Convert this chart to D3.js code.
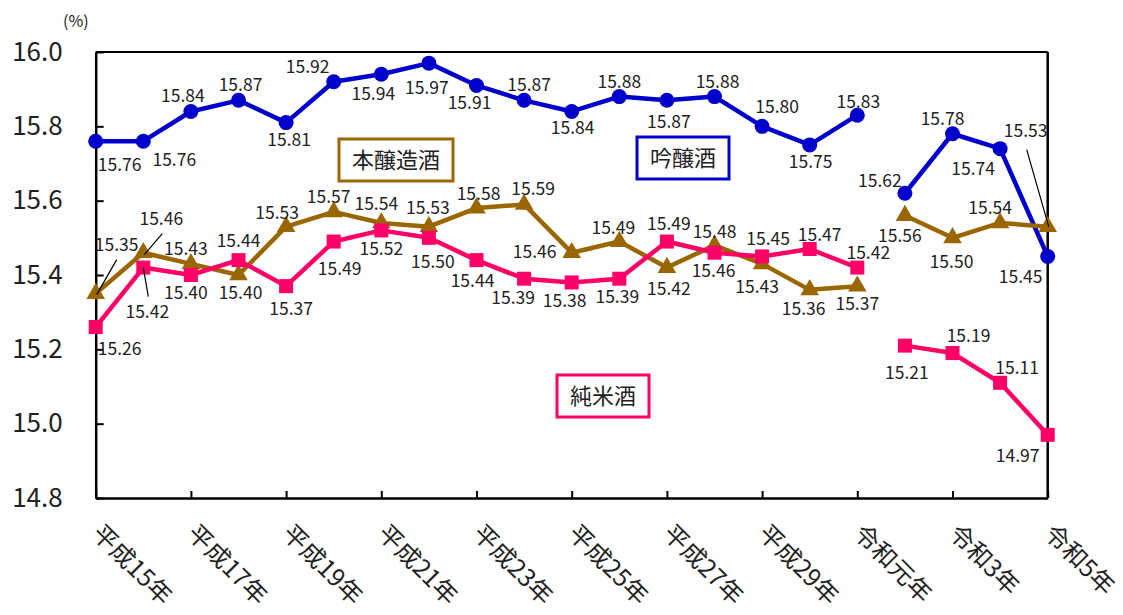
<!DOCTYPE html>
<html><head><meta charset="utf-8">
<script src="https://cdn.jsdelivr.net/npm/d3@7"></script>
<style>
body{margin:0;background:#fff;}
text{font-family:"Noto Sans CJK JP","Noto Sans",sans-serif;fill:#222;}
</style></head>
<body><svg id="c" width="1123" height="615"></svg>
<script>
const categories = ["平成15年","平成16年","平成17年","平成18年","平成19年","平成20年","平成21年","平成22年","平成23年","平成24年","平成25年","平成26年","平成27年","平成28年","平成29年","平成30年","令和元年","令和2年","令和3年","令和4年","令和5年"];
const ginjo   = [15.76,15.76,15.84,15.87,15.81,15.92,15.94,15.97,15.91,15.87,15.84,15.88,15.87,15.88,15.80,15.75,15.83,15.62,15.78,15.74,15.45];
const honjozo = [15.35,15.46,15.43,15.40,15.53,15.57,15.54,15.53,15.58,15.59,15.46,15.49,15.42,15.48,15.43,15.36,15.37,15.56,15.50,15.54,15.53];
const junmai  = [15.26,15.42,15.40,15.44,15.37,15.49,15.52,15.50,15.44,15.39,15.38,15.39,15.49,15.46,15.45,15.47,15.42,15.21,15.19,15.11,14.97];
const seriesNames = ["吟醸酒","本醸造酒","純米酒"];
const breakIndex = 17; // series restart at 令和2年
const yTicks = [14.8,15.0,15.2,15.4,15.6,15.8,16.0];

// label placement (presentation only): [dx, dy] from point
const ginjoLab = [[24,30],[31,25],[-8,-9],[2,-9],[3,23],[-26,-9],[-8,26],[-2,31],[-7,24],[5,-9],[1,23],[0,-9],[2,28],[3,-9],[15,-13],[1,23],[1,-7],[-25,-6],[-10,-9],[-27,26],[-27,27]];
const honLab = [[21,-43],[18,-28],[-5,-9],[2,24],[-9,-8],[-5,-9],[-5,-13],[-1,-13],[2,-8],[9,-9],[-37,5],[-6,-8],[2,27],[0,-7],[-5,29],[-6,25],[0,24],[-5,26],[-1,30],[-10,-9],[-22,-90]];
const junLab = [[24,28],[4,50],[-5,24],[0,-13],[5,29],[6,33],[0,25],[4,30],[-4,27],[-11,25],[-7,25],[-2,24],[2,-12],[-1,24],[6,-11],[10,-8],[11,-9],[2,33],[16,-11],[17,-9],[-30,27]];
const leaders = [
  {s:1,i:0,from:[21,-34],to:[1,1]},
  {s:1,i:1,from:[19,-19],to:[1,2]},
  {s:2,i:1,from:[0,0],to:[5,29]},
  {s:1,i:20,from:[-21,-77],to:[1,0]}
];

const svg = d3.select("#c");
const x = d3.scalePoint().domain(categories).range([95.7,1047.7]);
const y = d3.scaleLinear().domain([14.8,16.0]).range([498,52]);
const colors = ["#0000CC","#996600","#FF0066"];
const values = [ginjo,honjozo,junmai];
const labs = [ginjoLab,honLab,junLab];

// frame
svg.append("line").attr("x1",95.7).attr("x2",1047.7).attr("y1",52).attr("y2",52).attr("stroke","#000").attr("stroke-width",2);
svg.append("line").attr("x1",1047.7).attr("x2",1047.7).attr("y1",52).attr("y2",498).attr("stroke","#000").attr("stroke-width",2.5);

// y axis
const yAxis = d3.axisLeft(y).tickValues(yTicks).tickSize(-8).tickSizeOuter(0).tickFormat(d3.format(".1f"));
const gy = svg.append("g").attr("transform","translate(95.7,0)").call(yAxis);
gy.select(".domain").attr("stroke","#000").attr("stroke-width",2.5);
gy.selectAll(".tick line").attr("stroke","#000").attr("stroke-width",2);
gy.selectAll(".tick text").attr("x",-33).attr("font-size",26).attr("fill","#222")
  .style("font-family",'"Noto Sans CJK JP",sans-serif');
svg.append("text").attr("x",63).attr("y",27).attr("font-size",16).text("(%)");

// x axis
const xAxis = d3.axisBottom(x).tickValues(categories.filter((d,i)=>i%2===0)).tickSize(-7).tickSizeOuter(0).tickFormat("");
const gx = svg.append("g").attr("transform","translate(0,498)").call(xAxis);
gx.select(".domain").attr("stroke","#000").attr("stroke-width",2.5);
gx.selectAll(".tick line").attr("stroke","#000").attr("stroke-width",2);
svg.append("g").selectAll("text").data(categories.filter((d,i)=>i%2===0)).join("text")
  .attr("transform",d=>`translate(${x(d)+1},${529}) rotate(45)`)
  .attr("font-size",24.5).attr("dy","0.35em").text(d=>d);

// lines & markers
values.forEach((vals,s)=>{
  const pts = vals.map((v,i)=>({c:categories[i],v,i}));
  const segs = [pts.slice(0,breakIndex), pts.slice(breakIndex)];
  const line = d3.line().x(d=>x(d.c)).y(d=>y(d.v));
  segs.forEach(seg=>{
    svg.append("path").attr("d",line(seg)).attr("fill","none").attr("stroke",colors[s]).attr("stroke-width",4.5).attr("stroke-linejoin","round");
  });
  const g = svg.append("g");
  if(s===0){
    g.selectAll("circle").data(pts).join("circle").attr("cx",d=>x(d.c)).attr("cy",d=>y(d.v)).attr("r",7.5).attr("fill",colors[s]);
  } else if(s===1){
    g.selectAll("path").data(pts).join("path").attr("transform",d=>`translate(${x(d.c)},${y(d.v)})`)
      .attr("d",d3.symbol(d3.symbolTriangle,150)).attr("fill",colors[s]);
  } else {
    g.selectAll("rect").data(pts).join("rect").attr("x",d=>x(d.c)-7).attr("y",d=>y(d.v)-7).attr("width",14).attr("height",14).attr("fill",colors[s]);
  }
});

// leader lines
leaders.forEach(l=>{
  const px = x(categories[l.i]), py = y(values[l.s][l.i]);
  svg.append("line").attr("x1",px+l.from[0]).attr("y1",py+l.from[1]).attr("x2",px+l.to[0]).attr("y2",py+l.to[1]).attr("stroke","#000").attr("stroke-width",1.2);
});

// data labels
values.forEach((vals,s)=>{
  svg.append("g").selectAll("text").data(vals).join("text")
    .attr("x",(d,i)=>x(categories[i])+labs[s][i][0])
    .attr("y",(d,i)=>y(d)+labs[s][i][1])
    .attr("text-anchor","middle").attr("font-size",17.5).attr("fill","#222")
    .text(d=>d.toFixed(2));
});

// legend boxes
const boxes = [
  {name:seriesNames[0],x:637,y:137,w:92,h:42,c:colors[0]},
  {name:seriesNames[1],x:339,y:139,w:114,h:42,c:colors[1]},
  {name:seriesNames[2],x:557,y:375,w:92,h:42,c:colors[2]}
];
boxes.forEach(b=>{
  svg.append("rect").attr("x",b.x).attr("y",b.y).attr("width",b.w).attr("height",b.h).attr("fill","#fff").attr("stroke",b.c).attr("stroke-width",3);
  svg.append("text").attr("x",b.x+b.w/2).attr("y",b.y+b.h/2).attr("dy","0.36em").attr("text-anchor","middle").attr("font-size",22).text(b.name);
});
</script></body></html>
